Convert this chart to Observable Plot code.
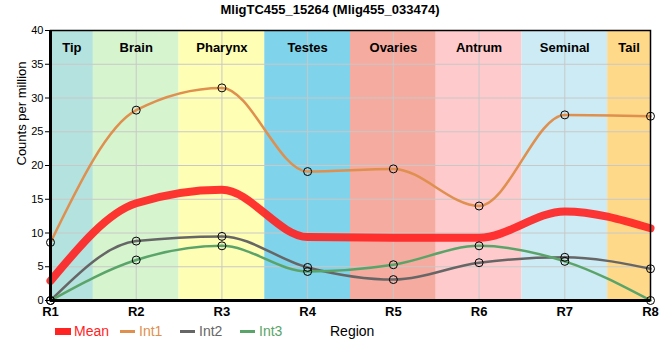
<!DOCTYPE html>
<html><head><meta charset="utf-8">
<script src="https://cdn.jsdelivr.net/npm/d3@7"></script>
<script src="https://cdn.jsdelivr.net/npm/@observablehq/plot@0.6"></script>
<style>
body{margin:0;background:#fff;font-family:"Liberation Sans",Arial,sans-serif;}
#title{width:660px;height:20px;line-height:20px;text-align:center;font-weight:bold;font-size:13px;color:#000;}
#legend{position:relative;width:660px;height:18px;font-size:14px;}
#legend .sw{position:absolute;}
#legend .lb{position:absolute;top:0;line-height:18px;white-space:nowrap;}
</style>
</head><body>
<div id="title">MligTC455_15264 (Mlig455_033474)</div>
<div id="chart"></div>
<div id="legend"></div>
<script>
const regions = ["R1","R2","R3","R4","R5","R6","R7","R8"];
const meanVals = [2.9, 14.4, 16.4, 9.4, 9.3, 9.3, 13.2, 10.7];
const int1Vals = [8.6, 28.2, 31.5, 19.1, 19.5, 14.0, 27.5, 27.3];
const int2Vals = [0, 8.8, 9.5, 4.9, 3.1, 5.6, 6.4, 4.7];
const int3Vals = [0, 6.0, 8.1, 4.3, 5.3, 8.1, 5.8, 0];
const bandNames = ["Tip","Brain","Pharynx","Testes","Ovaries","Antrum","Seminal","Tail"];
const bandColors = ["#b4e2de","#d6f5cf","#fefeb4","#7fd3ea","#f5ab9f","#fecacc","#ccebf4","#fed98a"];
const yTicks = [0,5,10,15,20,25,30,35,40];
const seriesNames = ["Mean","Int1","Int2","Int3"];
const seriesColors = ["#ff2424","#df8f4e","#666666","#5aa469"];

const n = regions.length;
const xs = regions.map((r,i)=>i+1);
const rows = regions.map((r,i)=>({x:i+1, mean:meanVals[i], int1:int1Vals[i], int2:int2Vals[i], int3:int3Vals[i]}));
const bands = bandNames.map((name,i)=>({
  name, color: bandColors[i],
  x1: Math.max(1, i+0.5), x2: Math.min(n, i+1.5),
  xc: (Math.max(1, i+0.5) + Math.min(n, i+1.5))/2
}));

const font = '"Liberation Sans", Arial, sans-serif';
const plot = Plot.plot({
  width: 660, height: 302,
  marginLeft: 50, marginRight: 10, marginTop: 10, marginBottom: 22,
  style: {fontFamily: font, fontSize: "11px", color: "#000", background: "#fff"},
  x: {domain: [1, n]},
  y: {domain: [0, 40]},
  color: {type: "identity"},
  marks: [
    Plot.rect(bands, {x1: "x1", x2: "x2", fill: "color"}),
    Plot.gridY(yTicks, {stroke: "#c8c8c8", strokeOpacity: 1}),
    Plot.gridX(xs, {stroke: "#c8c8c8", strokeOpacity: 1}),
    Plot.text(bands, {x: "xc", frameAnchor: "top", dy: 12, text: "name", fontWeight: "bold", fontSize: 13, fill: "#000"}),
    Plot.line(rows, {x: "x", y: "mean", stroke: seriesColors[0], strokeWidth: 8, strokeOpacity: 0.92, curve: "monotone-x"}),
    Plot.line(rows, {x: "x", y: "int1", stroke: seriesColors[1], strokeWidth: 2.5, curve: "monotone-x"}),
    Plot.line(rows, {x: "x", y: "int2", stroke: seriesColors[2], strokeWidth: 2.5, curve: "monotone-x"}),
    Plot.line(rows, {x: "x", y: "int3", stroke: seriesColors[3], strokeWidth: 2.5, curve: "monotone-x"}),
    Plot.dot(rows, {x: "x", y: "int1", r: 4, stroke: "#000", fill: "none", strokeWidth: 1}),
    Plot.dot(rows, {x: "x", y: "int2", r: 4, stroke: "#000", fill: "none", strokeWidth: 1}),
    Plot.dot(rows, {x: "x", y: "int3", r: 4, stroke: "#000", fill: "none", strokeWidth: 1}),
    Plot.frame({stroke: "#000", strokeWidth: 1.5}),
    Plot.ruleY([0], {stroke: "#000", strokeWidth: 3}),
    Plot.ruleX([1], {stroke: "#000", strokeWidth: 3}),
    Plot.axisX(xs, {tickFormat: d => regions[d-1], tickSize: 0, tickPadding: 6, fontWeight: "bold", fontSize: 13, label: null}),
    Plot.axisY(yTicks, {tickSize: 5, tickPadding: 2, fontSize: 11, label: null}),
    Plot.text(["Counts per million"], {frameAnchor: "left", dx: -29, rotate: -90, fontSize: 13, fill: "#000"})
  ]
});
document.getElementById("chart").appendChild(plot);

const legend = document.getElementById("legend");
const swX = [55,120,180,240];
const lbX = [74,139,199,259];
seriesNames.forEach((name,i)=>{
  const sw = document.createElement("div");
  sw.className = "sw";
  sw.style.left = swX[i] + "px";
  sw.style.width = (i===0 ? 16 : 15) + "px";
  sw.style.height = (i===0 ? 7 : 3) + "px";
  sw.style.top = (i===0 ? 6 : 8) + "px";
  sw.style.background = seriesColors[i];
  legend.appendChild(sw);
  const lb = document.createElement("div");
  lb.className = "lb";
  lb.style.left = lbX[i] + "px";
  lb.style.color = seriesColors[i];
  lb.textContent = name;
  legend.appendChild(lb);
});
const reg = document.createElement("div");
reg.className = "lb";
reg.style.left = "330px";
reg.style.color = "#000";
reg.textContent = "Region";
legend.appendChild(reg);
</script>
</body></html>
